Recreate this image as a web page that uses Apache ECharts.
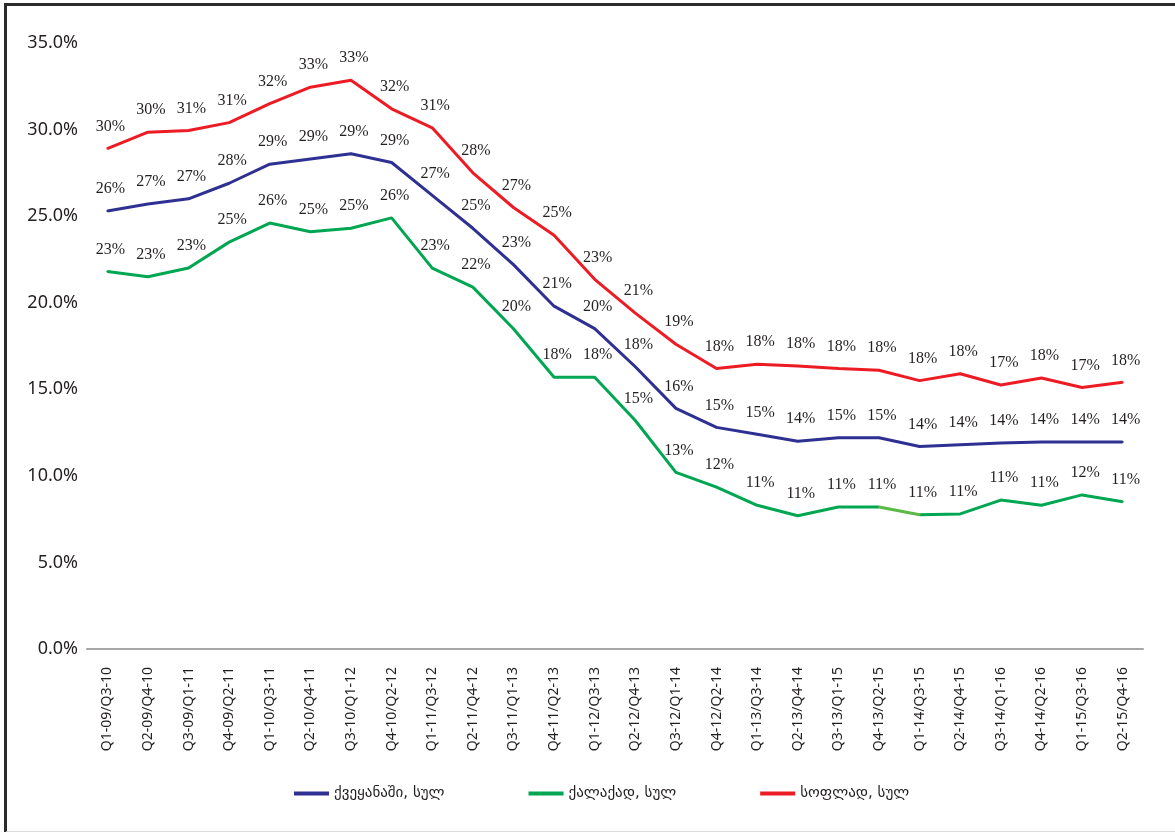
<!DOCTYPE html>
<html>
<head>
<meta charset="utf-8">
<script src="https://cdn.jsdelivr.net/npm/echarts@6/dist/echarts.min.js"></script>
<style>
  html, body { margin: 0; padding: 0; background: #fff; }
  #chart { width: 1175px; height: 832px; }
  #frame {
    position: absolute; left: 4px; top: 3px; width: 1200px; height: 825px;
    border-left: 3px solid #2b2b2b; border-top: 3px solid #2b2b2b;
    border-bottom: 2px solid #dcdcdc; pointer-events: none;
  }
</style>
</head>
<body>
<div id="chart"></div>
<div id="frame"></div>
<script>
const categories = [
  'Q1-09/Q3-10', 'Q2-09/Q4-10', 'Q3-09/Q1-11', 'Q4-09/Q2-11', 'Q1-10/Q3-11',
  'Q2-10/Q4-11', 'Q3-10/Q1-12', 'Q4-10/Q2-12', 'Q1-11/Q3-12', 'Q2-11/Q4-12',
  'Q3-11/Q1-13', 'Q4-11/Q2-13', 'Q1-12/Q3-13', 'Q2-12/Q4-13', 'Q3-12/Q1-14',
  'Q4-12/Q2-14', 'Q1-13/Q3-14', 'Q2-13/Q4-14', 'Q3-13/Q1-15', 'Q4-13/Q2-15',
  'Q1-14/Q3-15', 'Q2-14/Q4-15', 'Q3-14/Q1-16', 'Q4-14/Q2-16', 'Q1-15/Q3-16',
  'Q2-15/Q4-16'
]

const seriesNames = ['ქვეყანაში, სულ', 'ქალაქად, სულ', 'სოფლად, სულ']

// plotted values, %
const countryValues = [25.3, 25.7, 26.0, 26.9, 28.0, 28.3, 28.6, 28.1, 26.2, 24.3,
  22.2, 19.8, 18.5, 16.3, 13.9, 12.8, 12.4, 12.0, 12.2, 12.2,
  11.7, 11.8, 11.9, 11.95, 11.95, 11.95]
const cityValues = [21.8, 21.5, 22.0, 23.5, 24.6, 24.1, 24.3, 24.9, 22.0, 20.9,
  18.5, 15.7, 15.7, 13.2, 10.2, 9.35, 8.3, 7.7, 8.2, 8.2,
  7.75, 7.8, 8.6, 8.3, 8.9, 8.5]
const ruralValues = [28.9, 29.85, 29.95, 30.4, 31.5, 32.45, 32.85, 31.2, 30.1, 27.5,
  25.5, 23.9, 21.35, 19.4, 17.6, 16.2, 16.45, 16.35, 16.2, 16.1,
  15.5, 15.9, 15.25, 15.65, 15.1, 15.4]

// printed data labels
const countryLabels = [26, 27, 27, 28, 29, 29, 29, 29, 27, 25, 23, 21, 20, 18, 16, 15, 15, 14, 15, 15, 14, 14, 14, 14, 14, 14]
const cityLabels = [23, 23, 23, 25, 26, 25, 25, 26, 23, 22, 20, 18, 18, 15, 13, 12, 11, 11, 11, 11, 11, 11, 11, 11, 12, 11]
const ruralLabels = [30, 30, 31, 31, 32, 33, 33, 32, 31, 28, 27, 25, 23, 21, 19, 18, 18, 18, 18, 18, 18, 18, 17, 18, 17, 18]

const yTicks = [0, 5, 10, 15, 20, 25, 30, 35]

const colors = ['#2e3192', '#00a651', '#ed1c24']

const makeSeries = (name, values, labels, color, lineColor) => ({
  type: 'line',
  name,
  data: values,
  symbol: 'circle',
  symbolSize: 2,
  showSymbol: true,
  itemStyle: { color },
  lineStyle: lineColor ? { color: lineColor, width: 3 } : { width: 3 },
  label: {
    show: true,
    position: 'top',
    distance: 13,
    offset: [3, 0],
    color: '#231f20',
    fontFamily: 'Liberation Serif',
    fontSize: 16,
    formatter: p => labels[p.dataIndex] + '%'
  },
  emphasis: { disabled: true },
  animation: false
})

const chart = echarts.init(document.getElementById('chart'))
chart.setOption({
  backgroundColor: '#fff',
  animation: false,
  grid: { left: 87, right: 32, top: 43, bottom: 183, containLabel: false },
  legend: {
    data: seriesNames,
    top: 781,
    left: 289,
    icon: 'rect',
    itemWidth: 35,
    itemHeight: 4,
    itemGap: 84,
    textStyle: { fontFamily: 'DejaVu Sans', fontSize: 15, color: '#231f20' }
  },
  visualMap: {
    show: false,
    type: 'piecewise',
    seriesIndex: 1,
    dimension: 0,
    pieces: [
      { lt: 19, color: colors[1] },
      { gte: 19, lte: 20, color: '#5cb946' },
      { gt: 20, color: colors[1] }
    ]
  },
  xAxis: {
    type: 'category',
    data: categories,
    boundaryGap: true,
    axisTick: { show: false },
    axisLine: { lineStyle: { color: '#a6a6a6', width: 2 } },
    axisLabel: {
      rotate: 90,
      interval: 0,
      margin: 18,
      fontFamily: 'Noto Sans',
      fontSize: 14,
      color: '#231f20'
    }
  },
  yAxis: {
    type: 'value',
    min: yTicks[0],
    max: yTicks[yTicks.length - 1],
    interval: 5,
    splitLine: { show: false },
    axisLine: { show: false },
    axisTick: { show: false },
    axisLabel: {
      margin: 9,
      fontFamily: 'Noto Sans',
      fontSize: 18,
      color: '#231f20',
      formatter: v => v.toFixed(1) + '%'
    }
  },
  series: [
    makeSeries(seriesNames[0], countryValues, countryLabels, colors[0], colors[0]),
    makeSeries(seriesNames[1], cityValues, cityLabels, colors[1], null),
    makeSeries(seriesNames[2], ruralValues, ruralLabels, colors[2], colors[2])
  ]
})
</script>
</body>
</html>
